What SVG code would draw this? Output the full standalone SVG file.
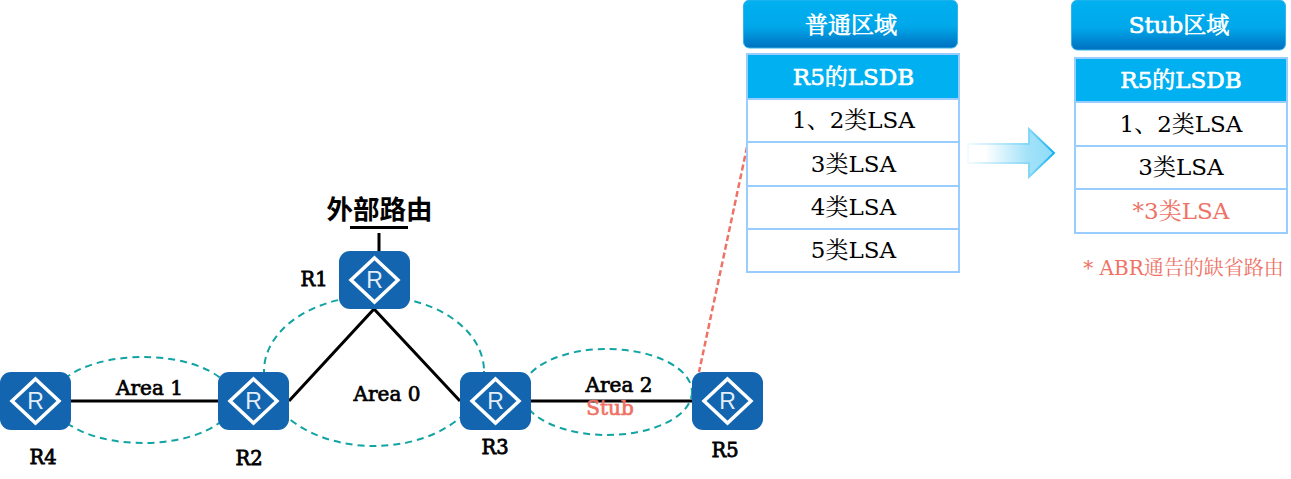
<svg xmlns="http://www.w3.org/2000/svg" width="1291" height="479" viewBox="0 0 1291 479">
<style>
text{font-family:"DejaVu Serif","Noto Serif CJK SC","Noto Sans CJK SC",serif;text-anchor:middle}
.lbl{font-size:19.500px;fill:#000;stroke:#000;stroke-width:.8}
.area{font-size:20px;fill:#000;stroke:#000;stroke-width:.7}
.cell{fill:#fff;stroke:#99ccff;stroke-width:2}
.hd{fill:#00b0f0;stroke:#99ccff;stroke-width:2}
.t{font-size:23px;fill:#000}
.th{font-size:23px;fill:#fff;stroke:#fff;stroke-width:.7}
.btn{fill:url(#bg);stroke:#33b4ea;stroke-width:1}
.btxt{font-size:23px;fill:#fff;stroke:#fff;stroke-width:.7}
.red{fill:#ee7266}
.area.red{stroke:#ee7266}
.dash{fill:none;stroke:#12a3a3;stroke-width:2;stroke-dasharray:7 5}
.link{stroke:#000;stroke-width:3;fill:none}
.rbody{fill:#1265ae}
.rd{fill:none;stroke:#fff;stroke-width:3.500}
.rt{font-family:"Liberation Sans",sans-serif;font-size:23px;fill:#e4eefa}
</style>
<defs>
<linearGradient id="bg" x1="0" y1="0" x2="0" y2="1"><stop offset="0" stop-color="#00b0f0"/><stop offset="0.55" stop-color="#00a8ea"/><stop offset="1" stop-color="#0070c0"/></linearGradient>
<linearGradient id="ag" x1="0" y1="0" x2="1" y2="0"><stop offset="0" stop-color="#fff"/><stop offset="0.2" stop-color="#fff"/><stop offset="0.7" stop-color="#a2e2f9"/><stop offset="1" stop-color="#8fdcf8"/></linearGradient>
<linearGradient id="as" x1="0" y1="0" x2="1" y2="0"><stop offset="0" stop-color="#f2fbfe"/><stop offset="0.7" stop-color="#88d8f6"/><stop offset="1" stop-color="#10b0f0"/></linearGradient>
</defs>

<g id="areas">
<ellipse class="dash" cx="143" cy="400" rx="90" ry="43"/>
<ellipse class="dash" cx="374" cy="371" rx="110" ry="75"/>
<ellipse class="dash" cx="607" cy="392" rx="85" ry="43"/>
</g>

<g id="connectors">
<path class="link" d="M71 401H218"/>
<path class="link" d="M289 401L374 309L460 401"/>
<path class="link" d="M531 401H692"/>
<path class="link" d="M379 233V251"/>
<path class="link" d="M350 227.500H408"/>
<path d="M747 147L699 372" fill="none" stroke="#ee7266" stroke-width="2.500" stroke-dasharray="6 3"/>
</g>

<g id="R4"><rect class="rbody" x="0" y="372" width="71" height="58" rx="11"/><path class="rd" d="M35.500 379L59 401L35.500 423L12 401Z"/><text class="rt" x="35.500" y="409">R</text><text class="lbl" x="43" y="464">R4</text></g>
<g id="R2"><rect class="rbody" x="218" y="372" width="71" height="58" rx="11"/><path class="rd" d="M253.500 379L277 401L253.500 423L230 401Z"/><text class="rt" x="253.500" y="409">R</text><text class="lbl" x="249" y="465">R2</text></g>
<g id="R1"><rect class="rbody" x="339" y="251" width="71" height="58" rx="11"/><path class="rd" d="M374.500 258L398 280L374.500 302L351 280Z"/><text class="rt" x="374.500" y="288">R</text><text class="lbl" x="314" y="286">R1</text></g>
<g id="R3"><rect class="rbody" x="460" y="372" width="71" height="58" rx="11"/><path class="rd" d="M495.500 379L519 401L495.500 423L472 401Z"/><text class="rt" x="495.500" y="409">R</text><text class="lbl" x="495" y="454">R3</text></g>
<g id="R5"><rect class="rbody" x="692" y="372" width="71" height="58" rx="11"/><path class="rd" d="M727.500 379L751 401L727.500 423L704 401Z"/><text class="rt" x="727.500" y="409">R</text><text class="lbl" x="725" y="457">R5</text></g>

<g id="external"><text x="379.500" y="219" style="font-family:'Noto Sans CJK SC',sans-serif;font-size:26.500px;font-weight:bold;fill:#000">外部路由</text></g>
<g id="area-labels">
<text class="area" x="149.500" y="395">Area 1</text>
<text class="area" x="387" y="401">Area 0</text>
<text class="area" x="619" y="392">Area 2</text>
<text class="area red" x="610" y="415">Stub</text>
</g>

<g id="normal-title"><rect class="btn" x="743.500" y="0" width="214" height="48" rx="6"/><text class="btxt" x="851" y="33">普通区域</text></g>
<g id="normal-table">
<rect class="hd" x="747" y="54" width="212" height="45"/><text class="th" x="853.500" y="85">R5的LSDB</text>
<rect class="cell" x="747" y="99" width="212" height="43"/><text class="t" x="853.500" y="128">1、2类LSA</text>
<rect class="cell" x="747" y="142" width="212" height="44"/><text class="t" x="853.500" y="172">3类LSA</text>
<rect class="cell" x="747" y="186" width="212" height="43"/><text class="t" x="853.500" y="215">4类LSA</text>
<rect class="cell" x="747" y="229" width="212" height="43"/><text class="t" x="853.500" y="258">5类LSA</text>
</g>

<g id="arrow"><path d="M968 144H1029V129L1054 153L1029 177V163H968Z" fill="url(#ag)" stroke="url(#as)" stroke-width="2"/></g>

<g id="stub-title"><rect class="btn" x="1071.500" y="0" width="214" height="50" rx="6"/><text class="btxt" x="1179" y="33">Stub区域</text></g>
<g id="stub-table">
<rect class="hd" x="1075" y="58" width="212" height="44"/><text class="th" x="1181" y="88">R5的LSDB</text>
<rect class="cell" x="1075" y="102" width="212" height="44"/><text class="t" x="1181" y="132">1、2类LSA</text>
<rect class="cell" x="1075" y="146" width="212" height="43"/><text class="t" x="1181" y="175">3类LSA</text>
<rect class="cell" x="1075" y="189" width="212" height="44"/><text class="t red" x="1181" y="219">*3类LSA</text>
</g>
<g id="note"><text class="red" x="1183.500" y="275" style="font-size:20px">* ABR通告的缺省路由</text></g>
</svg>
